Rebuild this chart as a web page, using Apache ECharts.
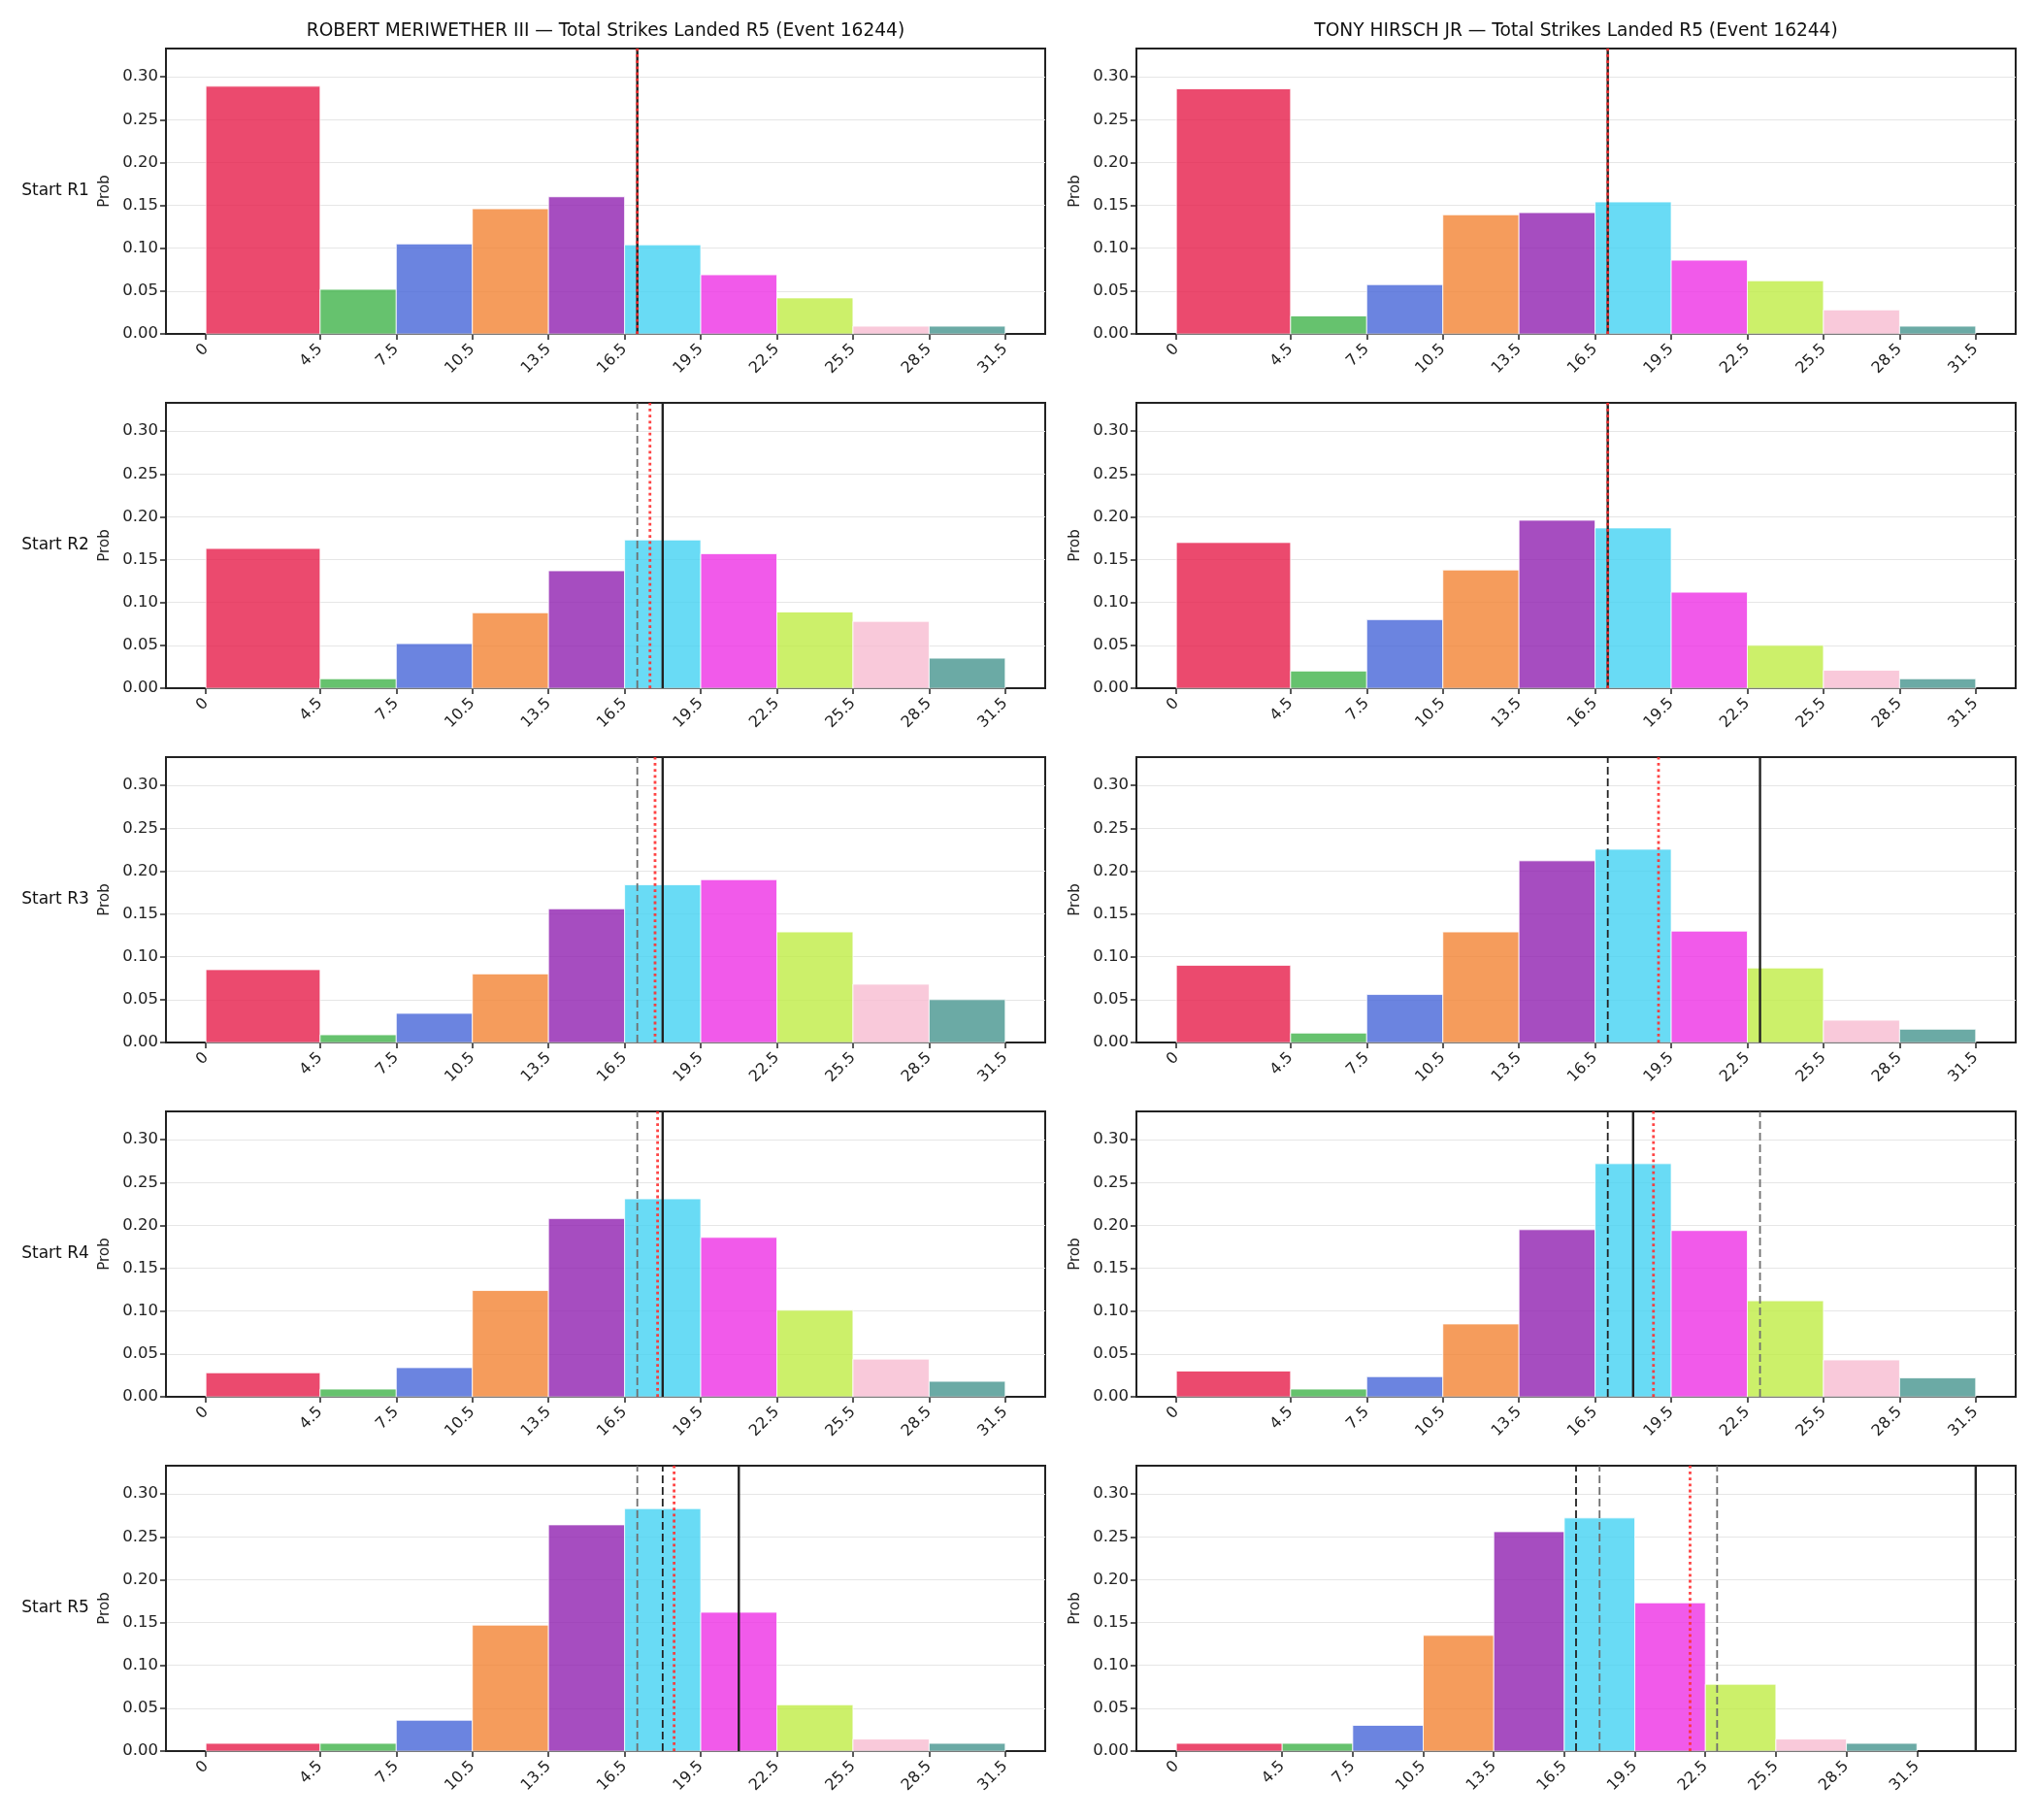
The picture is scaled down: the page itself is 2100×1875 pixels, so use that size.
<!DOCTYPE html>
<html>
<head>
<meta charset="utf-8">
<title>Total Strikes Landed R5 (Event 16244)</title>
<script src="https://cdn.jsdelivr.net/npm/echarts@6/dist/echarts.min.js"></script>
<style>
  html, body { margin: 0; padding: 0; background: #fff; }
  #chart { width: 2100px; height: 1875px; }
</style>
</head>
<body>
<div id="chart"></div>
<script>
// bin edges of the histogram (first bin is wider)
var binEdges = [0, 4.5, 7.5, 10.5, 13.5, 16.5, 19.5, 22.5, 25.5, 28.5, 31.5];
var rowLabels = ['Start R1', 'Start R2', 'Start R3', 'Start R4', 'Start R5'];
var fighters = ['ROBERT MERIWETHER III', 'TONY HIRSCH JR'];

// probabilities per bin, one array per start round
var meriR1 = [0.289, 0.052, 0.105, 0.146, 0.160, 0.104, 0.069, 0.042, 0.009, 0.009];
var meriR2 = [0.163, 0.011, 0.052, 0.088, 0.137, 0.173, 0.157, 0.089, 0.078, 0.035];
var meriR3 = [0.085, 0.009, 0.034, 0.080, 0.156, 0.184, 0.190, 0.129, 0.068, 0.050];
var meriR4 = [0.028, 0.009, 0.034, 0.124, 0.208, 0.231, 0.186, 0.101, 0.044, 0.018];
var meriR5 = [0.009, 0.009, 0.036, 0.147, 0.264, 0.283, 0.162, 0.054, 0.014, 0.009];

var tonyR1 = [0.286, 0.021, 0.0575, 0.139, 0.1415, 0.154, 0.086, 0.062, 0.028, 0.009];
var tonyR2 = [0.170, 0.020, 0.080, 0.138, 0.196, 0.187, 0.112, 0.050, 0.021, 0.011];
var tonyR3 = [0.090, 0.011, 0.056, 0.129, 0.212, 0.2255, 0.130, 0.087, 0.026, 0.0155];
var tonyR4 = [0.030, 0.009, 0.0235, 0.085, 0.195, 0.272, 0.194, 0.112, 0.043, 0.022];
var tonyR5 = [0.009, 0.009, 0.030, 0.135, 0.256, 0.272, 0.173, 0.078, 0.014, 0.009];

// reference lines per start round
var meriSolid  = [17, 18, 18, 18, 21];
var meriDashed = [null, null, null, null, 18];
var meriGray   = [[], [17], [17], [17], [17]];
var meriDotted = [17, 17.5, 17.7, 17.8, 18.45];

var tonySolid  = [17, 17, 23, 18, 34];
var tonyDashed = [null, null, 17, 17, 17];
var tonyGray   = [[], [], [], [23], [18, 23]];
var tonyDotted = [17, 17, 19.0, 18.8, 21.85];

var binColors = ['#E61D4A', '#40B34A', '#4665D8', '#F38333', '#9021B0',
                 '#44D2F3', '#EE31E5', '#BFEC45', '#F8BCD1', '#46958F'];

var probs = [
  [meriR1, meriR2, meriR3, meriR4, meriR5],
  [tonyR1, tonyR2, tonyR3, tonyR4, tonyR5]
];
var lines = [
  {solid: meriSolid, dashed: meriDashed, gray: meriGray, dotted: meriDotted},
  {solid: tonySolid, dashed: tonyDashed, gray: tonyGray, dotted: tonyDotted}
];

var yMax = 0.333;
var yTicks = [0, 0.05, 0.10, 0.15, 0.20, 0.25, 0.30];
var font = 'DejaVu Sans';
var colLeft = [171, 1171];
var rowTop = [50, 415, 780, 1145, 1510];
var gridW = 906, gridH = 294;

var myChart = echarts.init(document.getElementById('chart'), null, {renderer: 'canvas'});

var grids = [], xAxes = [], yAxes = [], series = [], graphics = [];

function vline(idx, v, style, z) {
  series.push({
    type: 'line',
    xAxisIndex: idx,
    yAxisIndex: idx,
    data: [[v, 0], [v, yMax]],
    symbol: 'none',
    silent: true,
    z: z,
    lineStyle: style
  });
}

for (var c = 0; c < 2; c++) {
  for (var r = 0; r < 5; r++) {
    var idx = grids.length;
    var ln = lines[c];
    var allX = [binEdges[binEdges.length - 1], ln.solid[r], ln.dotted[r]]
      .concat(ln.gray[r]).concat(ln.dashed[r] == null ? [] : [ln.dashed[r]]);
    var hi = Math.max.apply(null, allX);
    var pad = hi * 0.05;

    grids.push({
      left: colLeft[c], top: rowTop[r], width: gridW, height: gridH,
      show: true, borderColor: '#222', borderWidth: 2
    });
    xAxes.push({
      gridIndex: idx,
      type: 'value',
      min: -pad,
      max: hi + pad,
      axisLine: {show: true, onZero: false, lineStyle: {color: '#222', width: 2}},
      axisTick: {show: true, customValues: binEdges, length: 6, lineStyle: {color: '#222', width: 1.5}},
      axisLabel: {
        customValues: binEdges,
        rotate: 45,
        margin: 13,
        fontFamily: font,
        fontSize: 16,
        color: '#222'
      },
      splitLine: {show: false}
    });
    yAxes.push({
      gridIndex: idx,
      type: 'value',
      min: 0,
      max: yMax,
      name: 'Prob',
      nameLocation: 'middle',
      nameGap: 55,
      nameTextStyle: {fontFamily: font, fontSize: 15, color: '#222'},
      axisLine: {show: true, onZero: false, lineStyle: {color: '#222', width: 2}},
      axisTick: {show: true, customValues: yTicks, length: 6, lineStyle: {color: '#222', width: 1.5}},
      axisLabel: {
        customValues: yTicks,
        margin: 8,
        fontFamily: font,
        fontSize: 16.5,
        color: '#222',
        formatter: function (v) { return v.toFixed(2); }
      },
      splitLine: {show: true, lineStyle: {color: '#e6e6e6', width: 1}}
    });

    var p = probs[c][r];
    series.push({
      type: 'custom',
      xAxisIndex: idx,
      yAxisIndex: idx,
      z: 2,
      silent: true,
      data: p.map(function (v, i) { return [binEdges[i], binEdges[i + 1], v]; }),
      encode: {x: [0, 1], y: 2},
      renderItem: function (params, api) {
        var a = api.coord([api.value(0), api.value(2)]);
        var b = api.coord([api.value(1), 0]);
        return {
          type: 'rect',
          shape: {x: a[0], y: a[1], width: b[0] - a[0], height: b[1] - a[1]},
          style: {
            fill: binColors[params.dataIndex],
            opacity: 0.8,
            stroke: '#fff',
            lineWidth: 1
          }
        };
      }
    });

    ln.gray[r].forEach(function (g) {
      vline(idx, g, {color: '#6f6f6f', width: 1.8, type: [8, 4]}, 5);
    });
    if (ln.dashed[r] != null) {
      vline(idx, ln.dashed[r], {color: '#222', width: 1.8, type: [8, 4]}, 6);
    }
    vline(idx, ln.solid[r], {color: '#222', width: 2.4, type: 'solid'}, 7);
    vline(idx, ln.dotted[r], {color: '#ff3030', width: 2.8, opacity: 0.9, type: [2.8, 3.4]}, 8);

    if (c === 0) {
      graphics.push({
        type: 'text', x: 57, y: rowTop[r] + gridH / 2,
        style: {text: rowLabels[r], font: '17px "DejaVu Sans"', fill: '#111',
                textAlign: 'center', textVerticalAlign: 'middle'}
      });
    }
  }
  graphics.push({
    type: 'text', x: colLeft[c] + gridW / 2, y: 32,
    style: {text: fighters[c] + ' \u2014 Total Strikes Landed R5 (Event 16244)',
            font: '18.6px "DejaVu Sans"', fill: '#111',
            textAlign: 'center', textVerticalAlign: 'middle'}
  });
}

var option = {
  animation: false,
  backgroundColor: '#fff',
  grid: grids,
  xAxis: xAxes,
  yAxis: yAxes,
  series: series,
  graphic: graphics
};
myChart.setOption(option);
</script>
</body>
</html>
